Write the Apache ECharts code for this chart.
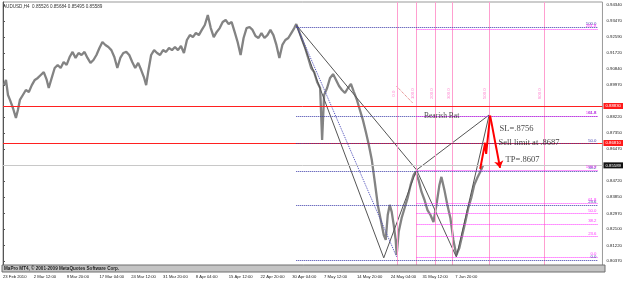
<!DOCTYPE html>
<html>
<head>
<meta charset="utf-8">
<script src="https://cdn.jsdelivr.net/npm/echarts@6/dist/echarts.min.js"></script>
<style>
html, body { margin: 0; padding: 0; background: #fff; }
#chart { width: 625px; height: 283px; }
</style>
</head>
<body>
<div id="chart"></div>
<script>
// AUDUSD H4, prices (bar index from the left edge)
var bars = [1,3,5,7,10,13,15,17,20,23,26,29,32,35,38,41,44,46,49,52,55,58,61,64,67,70,73,76,79,82,85,88,91,94,97,100,103,106,109,112,115,118,121,124,127,130,133,136,139,142,144,146,149,152,155,158,161,164,167,170,173,176,179,182,185,188,191,194,197,200,203,206,209,212,215,218,221,224,227,230,233,236,239,242,245,248,251,254,257,260,263,266,269,272,275,278,281,284,287,290,293,295,298,301,304,307,310,313,316,319,321,323,326,329,332,335,338,341,344,347,350,353,356,359,362,365,368,371,374,377,380,383,385,387,389,391,393,395,396,398,401,404,407,410,413,415,418,421,424,427,430,433,436,439,441,444,447,450,453,456,459,462,465,468,471,474,477,480,483];
var prices = [0.8997,0.9025,0.8943,0.8916,0.8872,0.8818,0.8861,0.8916,0.8943,0.8970,0.8959,0.8997,0.9025,0.9036,0.9052,0.9068,0.9025,0.8981,0.9036,0.9090,0.9107,0.9090,0.9123,0.9107,0.9150,0.9178,0.9145,0.9172,0.9161,0.9178,0.9145,0.9118,0.9134,0.9161,0.9199,0.9232,0.9216,0.9205,0.9188,0.9150,0.9090,0.9145,0.9172,0.9178,0.9161,0.9123,0.9090,0.9118,0.9079,0.9036,0.8997,0.9068,0.9161,0.9188,0.9172,0.9161,0.9188,0.9178,0.9199,0.9188,0.9205,0.9188,0.9210,0.9172,0.9243,0.9270,0.9259,0.9281,0.9270,0.9298,0.9325,0.9379,0.9308,0.9259,0.9287,0.9308,0.9341,0.9352,0.9330,0.9341,0.9287,0.9232,0.9161,0.9254,0.9308,0.9314,0.9298,0.9265,0.9254,0.9281,0.9254,0.9270,0.9298,0.9270,0.9216,0.9145,0.9216,0.9243,0.9254,0.9281,0.9308,0.9330,0.9287,0.9243,0.9199,0.9145,0.9090,0.9068,0.9014,0.8981,0.8697,0.8943,0.8981,0.9036,0.9057,0.9025,0.8992,0.8970,0.8954,0.8981,0.9003,0.8959,0.8916,0.8861,0.8807,0.8741,0.8670,0.8588,0.8468,0.8343,0.8261,0.8179,0.8152,0.8288,0.8343,0.8305,0.8234,0.8152,0.8070,0.8196,0.8272,0.8326,0.8381,0.8452,0.8506,0.8523,0.8479,0.8414,0.8370,0.8315,0.8288,0.8250,0.8343,0.8452,0.8496,0.8425,0.8343,0.8272,0.8152,0.8070,0.8108,0.8179,0.8250,0.8326,0.8381,0.8452,0.8490,0.8523,0.8561];

var priceTicks = ['0.94340','0.93470','0.92590','0.91720','0.90840','0.89970','0.88220','0.87350','0.86470','0.84720','0.83850','0.82970','0.82100','0.81220','0.80370'];
var timeTicks = [0,31,64,97,129,161,194,227,259,291,323,356,390,422,455];
var timeLabels = ['23 Feb 2010','2 Mar 12:00','9 Mar 20:00','17 Mar 04:00','24 Mar 12:00','31 Mar 20:00','8 Apr 04:00','15 Apr 12:00','22 Apr 20:00','30 Apr 04:00','7 May 12:00','14 May 20:00','24 May 04:00','31 May 12:00','7 Jun 20:00'];

// bearish bat X A B C D
var batBars = [295,383,416,456,489];
var batPrices = [0.9325,0.8054,0.8534,0.8059,0.8834];

// fibo retracement of XA (blue) and of BC (magenta)
var xaNames = ['0.0','23.6','38.2','50.0','61.8','100.0'];
var xaPrices = [0.8042,0.8342,0.8528,0.8678,0.8828,0.9314];
var bcNames = ['0.0','23.6','38.2','50.0','61.8','100.0','161.8','261.8'];
var bcPrices = [0.8059,0.8171,0.8240,0.8297,0.8353,0.8534,0.8828,0.9303];

// fibo time zones
var zoneBars = [397,416,435,452,489,544];
var zoneNames = ['0.0','100.0','200.0','300.0','500.0','800.0'];

// order levels and the bid
var redLevels = [0.8883,0.8681];
var redNames = ['0.88830','0.86810'];
var bid = 0.85589;

// red sketch of the expected move
var moveBars = [480,485,486,490,500];
var movePrices = [0.8540,0.8682,0.8622,0.8830,0.8545];

var notes = ['Bearish Bat','SL=.8756','Sell limit at .8687','TP=.8607'];
var noteBars = [423,499,498,505];
var notePrices = [0.8828,0.8757,0.8681,0.8588];
var noteSizes = [7.5,8.5,8.5,8.5];

function pairs(xs, ys) {
    return xs.map(function (x, i) { return [x, ys[i]]; });
}

function levelLines(start, end, ys, names) {
    return ys.map(function (y, i) {
        return [{coord: [start, y], name: names[i]}, {coord: [end, y]}];
    });
}

function priceTag(bg) {
    return {show: true, position: 'end', distance: 1, formatter: '{b}', fontSize: 4.3,
        color: '#fff', backgroundColor: bg, padding: [1, 2]};
}

function hLine(price, name, color, tagColor, z) {
    return {
        type: 'line', data: [], z: z, silent: true,
        markLine: {
            silent: true, symbol: 'none', precision: 5,
            lineStyle: {color: color, type: 'solid', width: 1, opacity: 1},
            label: priceTag(tagColor),
            data: [{yAxis: price, name: name, lineStyle: {color: color, type: 'solid', width: 1}}]
        }
    };
}

var chart = echarts.init(document.getElementById('chart'));

var bat = pairs(batBars, batPrices);

var series = [
    {
        // fibo time zones
        type: 'line', data: [], z: 1, silent: true,
        markLine: {
            silent: true, symbol: 'none', label: {show: false},
            lineStyle: {color: '#ff9fd0', type: 'solid', width: 1},
            data: zoneBars.map(function (b) { return {xAxis: b}; })
        }
    },
    hLine(bid, '0.85589', '#c8c8c8', '#111', 1),
    {
        type: 'line', data: pairs(bars, prices), z: 2, silent: true,
        showSymbol: false, lineStyle: {color: '#838383', width: 2.3}
    }
];

redLevels.forEach(function (p, i) {
    series.push(hLine(p, redNames[i], '#ff2020', '#ff1a1a', 3));
});

series = series.concat([
    {
        type: 'line', data: [], z: 4, silent: true,
        markLine: {
            silent: true, symbol: 'none', precision: 5,
            lineStyle: {color: '#3a3aa8', type: 'dotted', width: 1},
            label: {show: true, position: 'insideEndTop', distance: 1, formatter: '{b}', fontSize: 4.3, color: '#3a3aa8'},
            data: levelLines(295, 598, xaPrices, xaNames)
        }
    },
    {
        type: 'line', data: [], z: 4, silent: true,
        markLine: {
            silent: true, symbol: 'none', precision: 5,
            lineStyle: {color: '#ff33ff', type: 'dotted', width: 1},
            label: {show: true, position: 'insideEndTop', distance: 1, formatter: '{b}', fontSize: 4.3, color: '#ff33ff'},
            data: levelLines(416, 598, bcPrices, bcNames)
        }
    },
    {
        type: 'line', data: bat, z: 4, silent: true, showSymbol: false,
        lineStyle: {color: '#555', width: 1}
    },
    {
        type: 'line', data: [bat[0], bat[2], bat[4]], z: 4, silent: true, showSymbol: false,
        lineStyle: {color: '#555', width: 1}
    },
    {
        type: 'line', data: [bat[0], [396, 0.8059]], z: 4, silent: true, showSymbol: false,
        lineStyle: {color: '#4a4ab8', width: 1, type: 'dotted'}
    },
    {
        type: 'line', data: [[396, 0.8990], [412, 0.8900]], z: 4, silent: true, showSymbol: false,
        lineStyle: {color: '#e07070', width: 1, type: 'dotted'}
    },
    {
        type: 'line', data: pairs(moveBars, movePrices).slice(0, 4), z: 5, silent: true, showSymbol: false,
        lineStyle: {color: '#ff0000', width: 2},
        markLine: {
            silent: true, symbol: ['none', 'arrow'], symbolSize: 7, precision: 5,
            lineStyle: {color: '#ff0000', width: 2, type: 'solid'}, label: {show: false},
            data: [[{coord: [moveBars[3], movePrices[3]]}, {coord: [moveBars[4], movePrices[4]]}]]
        }
    },
    {
        type: 'scatter', z: 6, silent: true, symbolSize: 1,
        itemStyle: {color: 'rgba(0,0,0,0)'},
        data: zoneBars.map(function (b, i) {
            return {value: [b - 4, 0.8950], name: zoneNames[i]};
        }),
        label: {show: true, position: 'inside', rotate: 90, formatter: '{b}', fontSize: 4.3, color: '#ff66c4'}
    },
    {
        type: 'scatter', z: 6, silent: true, symbolSize: 1,
        itemStyle: {color: 'rgba(0,0,0,0)'},
        data: notes.map(function (t, i) {
            return {value: [noteBars[i], notePrices[i]], name: t,
                label: {fontSize: noteSizes[i]}};
        }),
        label: {show: true, position: 'right', distance: 0, formatter: '{b}',
            color: '#111', fontFamily: 'Liberation Serif'}
    }
]);

chart.setOption({
    animation: false,
    backgroundColor: '#fff',
    textStyle: {fontFamily: 'Liberation Sans'},
    grid: {left: 2, right: 20, top: 2, bottom: 17, show: true, borderColor: '#999', borderWidth: 1},
    xAxis: {
        type: 'value', min: 0, max: 603,
        axisLine: {show: false}, axisTick: {show: false}, splitLine: {show: false},
        axisLabel: {
            customValues: timeTicks, showMinLabel: true, showMaxLabel: true,
            fontSize: 4.2, color: '#222', align: 'left', margin: 9,
            formatter: function (v) { return timeLabels[timeTicks.indexOf(v)]; }
        }
    },
    yAxis: {
        type: 'value', position: 'right', min: 0.80097, max: 0.94504,
        axisLine: {show: true, lineStyle: {color: '#555'}},
        axisTick: {show: true, length: 2, customValues: priceTicks.map(Number), lineStyle: {color: '#555'}},
        splitLine: {show: false},
        axisLabel: {
            customValues: priceTicks.map(Number), showMinLabel: true, showMaxLabel: true,
            fontSize: 4.3, color: '#222', margin: 4,
            formatter: function (v) { return v.toFixed(5); }
        }
    },
    graphic: [
        {type: 'text', left: 3, top: 4, z: 10,
         style: {text: 'AUDUSD,H4  0.85526 0.85684 0.85495 0.85589', fontSize: 4.6, fill: '#333', fontFamily: 'Liberation Sans'}},
        {type: 'rect', shape: {x: 2, y: 265, width: 603, height: 7}, z: 10,
         style: {fill: '#c4c4c4', stroke: '#6f6f6f', lineWidth: 1}},
        {type: 'text', left: 4, top: 266, z: 11,
         style: {text: 'MaPro MT4, \u00a9 2001-2009 MetaQuotes Software Corp.', fontSize: 4.6, fontWeight: 'bold', fill: '#222', fontFamily: 'Liberation Sans'}}
    ],
    series: series
});
</script>
</body>
</html>
